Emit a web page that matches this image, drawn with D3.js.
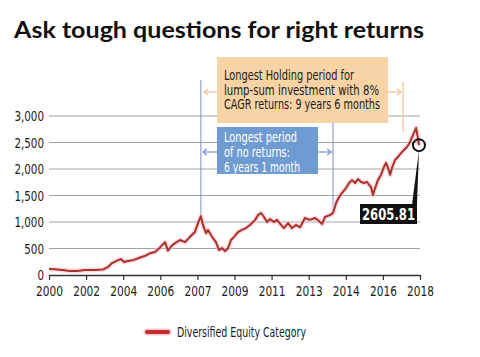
<!DOCTYPE html>
<html><head><meta charset="utf-8">
<script src="https://cdn.jsdelivr.net/npm/d3@7"></script>
<style>
body{margin:0;background:#fff;}
svg{display:block;}
.cond{font-family:"DejaVu Sans Condensed","Roboto",sans-serif;}
</style></head>
<body>
<svg id="c" width="480" height="357"></svg>
<script>
// ---- data (x in chart years, evenly spaced axis 2000..2018) ----
const years = [0,0.29,0.63,1.02,1.36,1.75,2.23,2.62,2.86,3.06,3.35,3.49,3.64,3.83,4.12,4.42,4.66,4.90,5.14,5.39,5.63,5.77,5.97,6.11,6.36,6.60,6.84,7.08,7.23,7.37,7.47,7.62,7.71,7.91,8.10,8.25,8.39,8.54,8.69,8.83,8.98,9.17,9.36,9.56,9.75,10.00,10.14,10.29,10.43,10.58,10.72,10.92,11.06,11.26,11.40,11.60,11.79,11.98,12.18,12.42,12.66,12.91,13.15,13.25,13.39,13.63,13.78,13.93,14.07,14.22,14.41,14.56,14.70,14.85,14.99,15.14,15.28,15.43,15.53,15.62,15.72,15.82,15.96,16.11,16.25,16.35,16.45,16.55,16.64,16.79,16.93,17.08,17.22,17.37,17.52,17.66,17.81,17.90,17.95];
const values = [115,110,95,75,75,95,95,105,150,225,280,300,245,265,285,330,360,410,435,520,620,460,560,600,660,620,720,810,980,1110,945,790,850,720,620,470,510,450,510,660,720,810,850,885,945,1040,1130,1170,1095,1000,1055,1000,1040,945,885,980,885,945,900,1075,1040,1075,1000,960,1095,1130,1170,1360,1470,1550,1640,1735,1790,1735,1810,1755,1735,1755,1700,1660,1510,1640,1790,1890,2040,2115,2020,1890,2020,2170,2230,2300,2360,2415,2510,2640,2775,2585,2450];
const tickLabels = ["2000","2002","2004","2006","2007","2009","2011","2013","2014","2016","2018"];
const yTicks = [0,500,1000,1500,2000,2500,3000];
const seriesName = "Diversified Equity Category";
const title = "Ask tough questions for right returns";
const lastLabel = "2605.81";
const holdText = ["Longest Holding period for","lump-sum investment with 8%","CAGR returns: 9 years 6 months"];
const holdWidths = [130,155,156];
const noRetText = ["Longest period","of no returns:","6 years 1 month"];
const noRetWidths = [73,66,76];
const markYears = {start:7.37, noRetEnd:13.78, holdEnd:17.18};

const svg = d3.select("#c");
const x = d3.scaleLinear().domain([0,18]).range([49,420]);
const y = d3.scaleLinear().domain([0,3000]).range([275,116]);

function condense(sel, f){
  sel.each(function(){ const w=this.getComputedTextLength(); d3.select(this).attr("textLength",w*f).attr("lengthAdjust","spacingAndGlyphs"); });
}

// title
svg.append("text").attr("x",14).attr("y",38)
  .attr("font-family","Lato, 'Open Sans', sans-serif").attr("font-weight",700)
  .attr("font-size",23).attr("fill","#111")
  .attr("textLength",410).attr("lengthAdjust","spacingAndGlyphs")
  .text(title);

// gridlines
svg.append("g").selectAll("line").data(yTicks.filter(d=>d>0)).join("line")
  .attr("x1",49).attr("x2",420).attr("y1",d=>y(d)).attr("y2",d=>y(d))
  .attr("stroke","#a3a3a3").attr("stroke-width",1);

// y labels
svg.append("g").selectAll("text").data(yTicks).join("text")
  .attr("class","cond").attr("x",44).attr("y",d=>y(d)).attr("dy","0.36em")
  .attr("text-anchor","end").attr("font-size",14).attr("fill","#1a1a1a")
  .text(d=>d3.format(",")(d)).call(condense,0.82);

// x axis
const xAxis = d3.axisBottom(x).tickValues(d3.range(11).map(i=>i*1.8))
  .tickFormat((d,i)=>tickLabels[i]).tickSize(5).tickSizeOuter(0);
const gx = svg.append("g").attr("transform","translate(0,275)").call(xAxis);
gx.attr("font-family",null).attr("font-size",null);
gx.select(".domain").attr("stroke","#333").attr("stroke-width",1.5);
gx.selectAll(".tick line").attr("stroke","#333").attr("stroke-width",1.2);
gx.selectAll(".tick text").attr("class","cond").attr("font-size",14).attr("fill","#1a1a1a").attr("dy","0.95em")
  .call(condense,0.84);

// annotation lines & boxes (behind series)
const ann = svg.append("g");
const orange = "#f0c590", blue = "#7f8fcf";
ann.append("line").attr("x1",x(markYears.start)).attr("x2",x(markYears.start))
  .attr("y1",80).attr("y2",y(1110)).attr("stroke",blue).attr("stroke-width",1);
ann.append("line").attr("x1",x(markYears.noRetEnd)).attr("x2",x(markYears.noRetEnd))
  .attr("y1",123).attr("y2",y(1170)).attr("stroke",blue).attr("stroke-width",1);
ann.append("line").attr("x1",x(markYears.holdEnd)).attr("x2",x(markYears.holdEnd))
  .attr("y1",82).attr("y2",132).attr("stroke",orange).attr("stroke-width",1.2);

// orange box
ann.append("rect").attr("x",217).attr("y",57).attr("width",171).attr("height",66).attr("fill","#f8d3a6");
ann.selectAll("text.h").data(holdText).join("text").attr("class","cond h")
  .attr("x",224).attr("y",(d,i)=>80+i*14.5).attr("font-size",13.5).attr("fill","#1c1c1c")
  .attr("textLength",(d,i)=>holdWidths[i]).attr("lengthAdjust","spacingAndGlyphs").text(d=>d);
// blue box
ann.append("rect").attr("x",217).attr("y",127).attr("width",101).attr("height",47).attr("fill","#6f9bd3");
ann.selectAll("text.b").data(noRetText).join("text").attr("class","cond b")
  .attr("x",224).attr("y",(d,i)=>142+i*14.8).attr("font-size",13.5).attr("fill","#fff")
  .attr("textLength",(d,i)=>noRetWidths[i]).attr("lengthAdjust","spacingAndGlyphs").text(d=>d);

function arrow(g,x1,x2,yy,col){
  g.append("line").attr("x1",x1).attr("x2",x2).attr("y1",yy).attr("y2",yy).attr("stroke",col).attr("stroke-width",1.2);
  const dir = Math.sign(x2-x1);
  g.append("path").attr("d",`M${x2-dir*4},${yy-3}L${x2},${yy}L${x2-dir*4},${yy+3}`)
    .attr("fill","none").attr("stroke",col).attr("stroke-width",1.2);
}
arrow(ann,217,x(markYears.start)+3,92,orange);
arrow(ann,388,x(markYears.holdEnd)-2,92,orange);
arrow(ann,217,x(markYears.start)+2,152,blue);
arrow(ann,318,x(markYears.noRetEnd)-2,152,blue);

// series
const pts = years.map((t,i)=>[t,values[i]]);
const line = d3.line().x(d=>x(d[0])).y(d=>y(d[1]));
svg.append("path").datum(pts).attr("d",line).attr("fill","none")
  .attr("stroke","#f7c3d6").attr("stroke-width",5).attr("stroke-linejoin","round").attr("opacity",0.6);
svg.append("path").datum(pts).attr("d",line).attr("fill","none")
  .attr("stroke","#b52d26").attr("stroke-width",2).attr("stroke-linejoin","round");
svg.append("path").datum(pts).attr("d",line).attr("fill","none")
  .attr("stroke","#6e5420").attr("stroke-width",1).attr("stroke-dasharray","2,3").attr("opacity",0.75);

// last value marker
const last = pts[pts.length-1];
const cx = x(last[0]), cy = y(last[1]);
svg.append("path").attr("d",`M${cx},${cy+5}L${cx-7},205L${cx-2},205Z`).attr("fill","#111");
svg.append("circle").attr("cx",cx).attr("cy",cy).attr("r",6).attr("fill","none").attr("stroke","#111").attr("stroke-width",2);
svg.append("rect").attr("x",360).attr("y",204).attr("width",57).attr("height",20).attr("fill","#111");
svg.append("text").attr("x",388.5).attr("y",219.5).attr("text-anchor","middle")
  .attr("font-family","'DejaVu Sans Condensed','Roboto',sans-serif").attr("font-weight",700)
  .attr("font-size",15).attr("fill","#fff").attr("textLength",53).attr("lengthAdjust","spacingAndGlyphs").text(lastLabel);

// legend
svg.append("line").attr("x1",147).attr("x2",168).attr("y1",332).attr("y2",332)
  .attr("stroke","#f7c3d6").attr("stroke-width",7).attr("stroke-linecap","round");
svg.append("line").attr("x1",147).attr("x2",168).attr("y1",332).attr("y2",332)
  .attr("stroke","#c0302a").attr("stroke-width",4).attr("stroke-linecap","round");
svg.append("text").attr("class","cond").attr("x",177).attr("y",337).attr("font-size",14).attr("fill","#1a1a1a")
  .attr("textLength",129).attr("lengthAdjust","spacingAndGlyphs").text(seriesName);
</script>
</body></html>
